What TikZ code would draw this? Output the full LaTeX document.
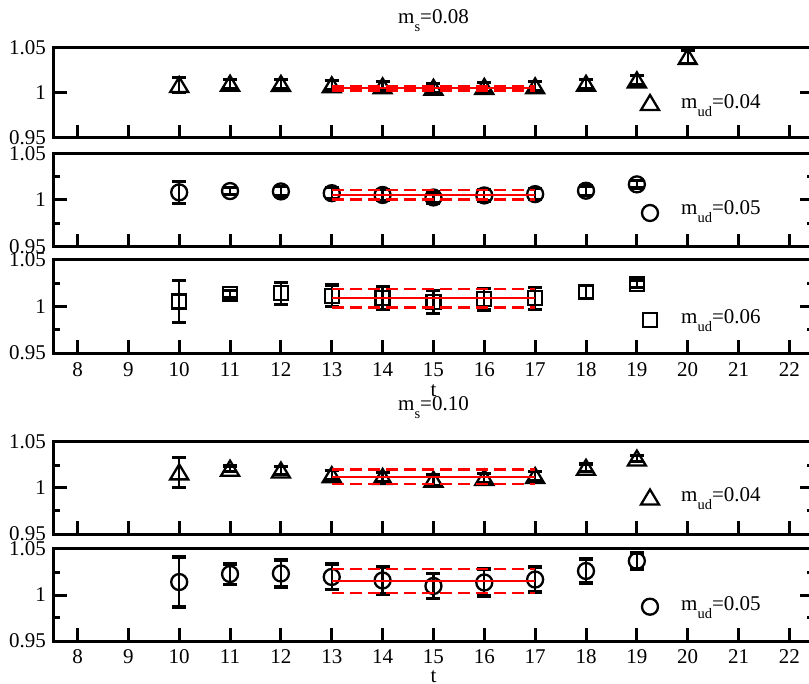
\documentclass[tikz,border=0pt]{standalone}
\usepackage{fontspec}
\setmainfont{Liberation Serif}
\tikzset{
  frame/.style={line width=3pt},
  tickl/.style={line width=3pt},
  mk/.style={line width=2.3pt},
  ebv/.style={line width=2.3pt},
  ebc/.style={line width=3.2pt},
  fitsolid/.style={red, line width=2pt},
  fitdash/.style={red, line width=2.5pt, dash pattern=on 12pt off 6pt},
  lab/.style={font=\fontsize{21}{25}\selectfont, inner sep=0pt},
}
\newcommand\MkTri[2]{\draw[mk] (#1,#2) ++(-9pt,-7pt) -- ++(18pt,0pt) -- ++(-9pt,15pt) -- cycle;}
\newcommand\MkCirc[2]{\draw[mk] (#1,#2) circle[radius=8pt];}
\newcommand\MkSq[2]{\draw[mk] (#1,#2) ++(-7pt,-7pt) rectangle ++(14pt,14pt);}
\newcommand\EBar[3]{%
  \draw[ebv] (#1,{#2-#3}) -- (#1,{#2+#3});
  \draw[ebc] (#1,{#2-#3}) ++(-7pt,0pt) -- ++(14pt,0pt);
  \draw[ebc] (#1,{#2+#3}) ++(-7pt,0pt) -- ++(14pt,0pt);}
\newcommand\PFrame{%
  \draw[frame] (7.52,0.95) rectangle (22.48,1.05);
  \foreach \xx in {8,...,22} \draw[tickl] (\xx,0.95) -- ++(0pt,13pt);
  \draw[tickl] (7.52,1) -- ++(14pt,0pt);
  \draw[tickl] (22.48,1) -- ++(-14pt,0pt);
  \path (7.52,1.05) ++(-7pt,0pt) node[lab,anchor=east]{1.05};
  \path (7.52,1) ++(-7pt,0pt) node[lab,anchor=east]{1};
  \path (7.52,0.95) ++(-7pt,0pt) node[lab,anchor=east]{0.95};}
\newcommand\PMinor{%
  \foreach \yy in {0.975,1.025}{
    \draw[tickl] (7.52,\yy) -- ++(7pt,0pt);
    \draw[tickl] (22.48,\yy) -- ++(-7pt,0pt);}}
\newcommand\PFit[2]{%
  \draw[fitsolid] (13,#1) -- (17,#1);
  \draw[fitdash] (13,{#1+#2}) -- (17,{#1+#2});
  \draw[fitdash] (13,{#1-#2}) -- (17,{#1-#2});}
\newcommand\XLabels[1]{%
  \foreach \xx in {8,...,22} \path (\xx,0.95) ++(0pt,-#1) node[lab,anchor=base]{\xx};}
\newcommand\Sub[1]{\raisebox{-8pt}{\fontsize{14.5}{15}\selectfont #1}}
\begin{document}
\begin{tikzpicture}[x=1pt,y=-1pt]
\useasboundingbox (0,0) rectangle (809,684);
\clip (0,0) rectangle (809,684);
\fill[white] (0,0) rectangle (809,684);

% titles
\node[lab,anchor=base] (title1) at (433.5,23.3) {m\Sub{s}=0.08};
\node[lab,anchor=base] (xlab1) at (433.5,396.7) {t};
\node[lab,anchor=base] (title2) at (433.5,410.7) {m\Sub{s}=0.10};
\node[lab,anchor=base] (xlab2) at (433.5,682.5) {t};

% ---------- panel 1 ----------
\begin{scope}[xshift=-329.3pt, yshift=-993pt, x=50.85pt, y=900pt]
  \PFrame
  \foreach \xx/\vv/\ee in {10/1.0089/0.008, 11/1.0103/0.005, 12/1.0101/0.005,
     13/1.0085/0.005, 14/1.0074/0.005, 15/1.0058/0.005, 16/1.0067/0.005,
     17/1.0074/0.005, 18/1.0102/0.005, 19/1.014/0.005, 20/1.040/0.007}{
    \MkTri{\xx}{\vv}
    \EBar{\xx}{\vv}{\ee}}
  \PFit{1.005}{0.0022}
\end{scope}
\MkTri{650}{103}
\node[lab,anchor=base west] (leg1) at (681,108.3) {m\Sub{ud}=0.04};

% ---------- panel 2 ----------
\begin{scope}[xshift=-329.3pt, yshift=-1130pt, x=50.85pt, y=930pt]
  \PFrame
  \PMinor
  \foreach \xx/\vv/\ee in {10/1.0082/0.012, 11/1.0096/0.004, 12/1.0092/0.005,
     13/1.0073/0.006, 14/1.0054/0.006, 15/1.0027/0.006, 16/1.0049/0.006,
     17/1.0063/0.006, 18/1.010/0.005, 19/1.0168/0.004}{
    \MkCirc{\xx}{\vv}
    \EBar{\xx}{\vv}{\ee}}
  \PFit{1.0058}{0.005}
\end{scope}
\MkCirc{650}{213}
\node[lab,anchor=base west] (leg2) at (681,215) {m\Sub{ud}=0.05};

% ---------- panel 3 ----------
\begin{scope}[xshift=-329.3pt, yshift=-1236.5pt, x=50.85pt, y=930pt]
  \PFrame
  \PMinor
  \foreach \xx/\vv/\ee in {10/1.0053/0.0224, 11/1.0132/0.004, 12/1.0142/0.0118,
     13/1.0115/0.0117, 14/1.0091/0.0122, 15/1.0048/0.0122, 16/1.0079/0.0117,
     17/1.0088/0.0118, 18/1.0159/0.007, 19/1.0244/0.004}{
    \MkSq{\xx}{\vv}
    \EBar{\xx}{\vv}{\ee}}
  \PFit{1.0088}{0.01}
  \XLabels{23pt}
\end{scope}
\MkSq{650}{320}
\node[lab,anchor=base west] (leg3) at (681,324) {m\Sub{ud}=0.06};

% ---------- panel 4 ----------
\begin{scope}[xshift=-329.3pt, yshift=-1408pt, x=50.85pt, y=920pt]
  \PFrame
  \PMinor
  \foreach \xx/\vv/\ee in {10/1.017/0.0165, 11/1.021/0.003, 12/1.019/0.004,
     13/1.014/0.005, 14/1.012/0.005, 15/1.009/0.006, 16/1.011/0.005,
     17/1.013/0.005, 18/1.022/0.004, 19/1.032/0.003}{
    \MkTri{\xx}{\vv}
    \EBar{\xx}{\vv}{\ee}}
  \PFit{1.0123}{0.0077}
\end{scope}
\MkTri{650}{497.5}
\node[lab,anchor=base west] (leg4) at (681,501.7) {m\Sub{ud}=0.04};

% ---------- panel 5 ----------
\begin{scope}[xshift=-329.3pt, yshift=-1515pt, x=50.85pt, y=920pt]
  \PFrame
  \PMinor
  \foreach \xx/\vv/\ee in {10/1.0141/0.0272, 11/1.0228/0.011, 12/1.0234/0.0147,
     13/1.0196/0.014, 14/1.0158/0.0147, 15/1.0098/0.014, 16/1.0136/0.0147,
     17/1.0168/0.0136, 18/1.0261/0.013, 19/1.037/0.0087}{
    \MkCirc{\xx}{\vv}
    \EBar{\xx}{\vv}{\ee}}
  \PFit{1.0152}{0.013}
  \XLabels{22.3pt}
\end{scope}
\MkCirc{650}{606.7}
\node[lab,anchor=base west] (leg5) at (681,610) {m\Sub{ud}=0.05};
\end{tikzpicture}
\end{document}
